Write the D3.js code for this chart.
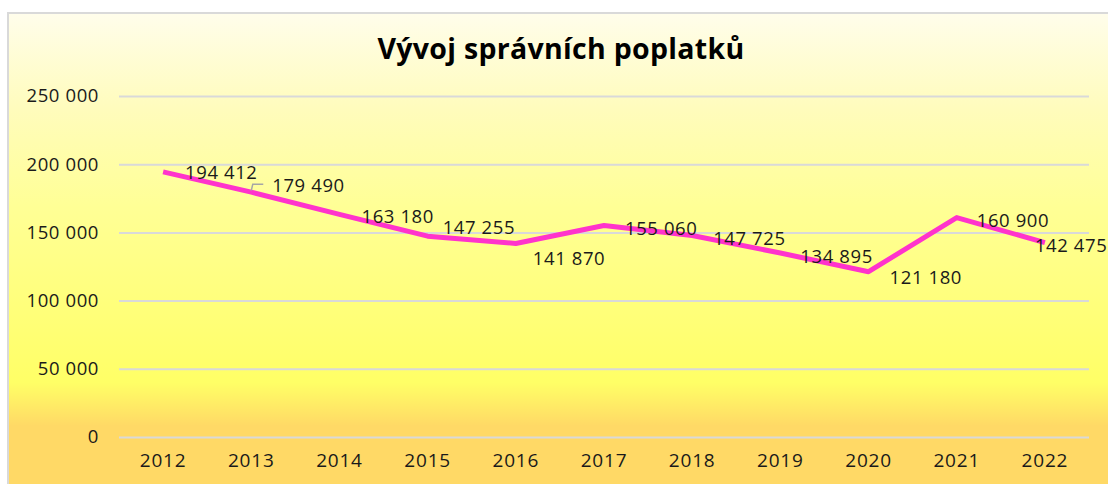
<!DOCTYPE html>
<html>
<head>
<meta charset="utf-8">
<script src="https://cdn.jsdelivr.net/npm/d3@7"></script>
<style>
    body { margin: 0; background: #fff; }
    text { font-family: "Open Sans", "Noto Sans", sans-serif; fill: #1a1a1a; }
    .axis .domain { display: none; }
    .axis line { stroke: #d9d9d9; stroke-width: 2; }
</style>
</head>
<body>
<svg id="chart" width="1108" height="484"></svg>
<script>
const years = ["2012", "2013", "2014", "2015", "2016", "2017", "2018", "2019", "2020", "2021", "2022"];
const fees = [194412, 179490, 163180, 147255, 141870, 155060, 147725, 134895, 121180, 160900, 142475];
const yTicks = [0, 50000, 100000, 150000, 200000, 250000];
const title = "Vývoj správních poplatků";

// label nudges from the point (dx, dy), as placed in the original
const labelNudge = [[22, 1], [21, -7], [22, 2], [15, -9], [17, 15], [21, 3], [21, 3], [20, 4], [21, 6], [20, 3], [-10, 3]];

const width = 1108, height = 484;
const plot = {left: 119, right: 1089, top: 96, bottom: 437};

const svg = d3.select("#chart");

// background gradient
const grad = svg.append("defs").append("linearGradient")
    .attr("id", "bg").attr("x1", 0).attr("y1", 0).attr("x2", 0).attr("y2", 1);
[[0, "#fffdeb"], [0.2, "#fffcbc"], [0.4, "#ffff96"], [0.77, "#ffff66"], [0.86, "#ffd966"], [1, "#ffd966"]]
    .forEach(s => grad.append("stop").attr("offset", s[0]).attr("stop-color", s[1]));

svg.append("rect")
    .attr("x", 8).attr("y", 13)
    .attr("width", 1110).attr("height", 480)
    .attr("fill", "url(#bg)")
    .attr("stroke", "#d9d9d9")
    .attr("stroke-width", 2);

const x = d3.scaleBand().domain(years).range([plot.left, plot.right]);
const y = d3.scaleLinear().domain([0, 250000]).range([plot.bottom, plot.top]);

const fmt = v => d3.format(",")(v).replace(/,/g, "\u00a0");

// y axis with gridlines
svg.append("g")
    .attr("class", "axis y")
    .attr("transform", `translate(${plot.left},0)`)
    .call(d3.axisLeft(y).tickValues(yTicks).tickSize(-(plot.right - plot.left)).tickPadding(20).tickFormat(fmt))
    .selectAll("text")
    .style("font-size", "18.5px")
    .style("letter-spacing", "0.6px");

// x axis labels
svg.append("g")
    .attr("class", "axis x")
    .attr("transform", `translate(0,${plot.bottom})`)
    .call(d3.axisBottom(x).tickSize(0).tickPadding(17))
    .selectAll("text")
    .style("font-size", "19px")
    .style("letter-spacing", "0.8px");

svg.append("text")
    .attr("x", 561).attr("y", 59)
    .attr("text-anchor", "middle")
    .style("font-size", "28.5px")
    .style("font-weight", "bold")
    .style("letter-spacing", "0.3px")
    .style("fill", "#000")
    .text(title);

const pts = years.map((yr, i) => ({yr, v: fees[i], cx: x(yr) + x.bandwidth() / 2, cy: y(fees[i])}));

svg.append("path")
    .datum(pts)
    .attr("fill", "none")
    .attr("stroke", "#ff33cc")
    .attr("stroke-width", 5)
    .attr("stroke-linejoin", "round")
    .attr("d", d3.line().x(d => d.cx).y(d => d.cy));

// leader line for the moved 2013 label
const p13 = pts[1];
svg.append("path")
    .attr("fill", "none")
    .attr("stroke", "#a6a6a6")
    .attr("stroke-width", 1.5)
    .attr("d", `M${p13.cx},${p13.cy - 1.5}L${p13.cx + 1.5},${p13.cy - 8}H${p13.cx + 12}`);

svg.selectAll(".lbl")
    .data(pts)
    .enter()
    .append("text")
    .attr("class", "lbl")
    .attr("x", (d, i) => d.cx + labelNudge[i][0])
    .attr("y", (d, i) => d.cy + labelNudge[i][1])
    .attr("dy", "0.35em")
    .style("font-size", "18.5px")
    .style("letter-spacing", "0.6px")
    .text(d => fmt(d.v));
</script>
</body>
</html>
